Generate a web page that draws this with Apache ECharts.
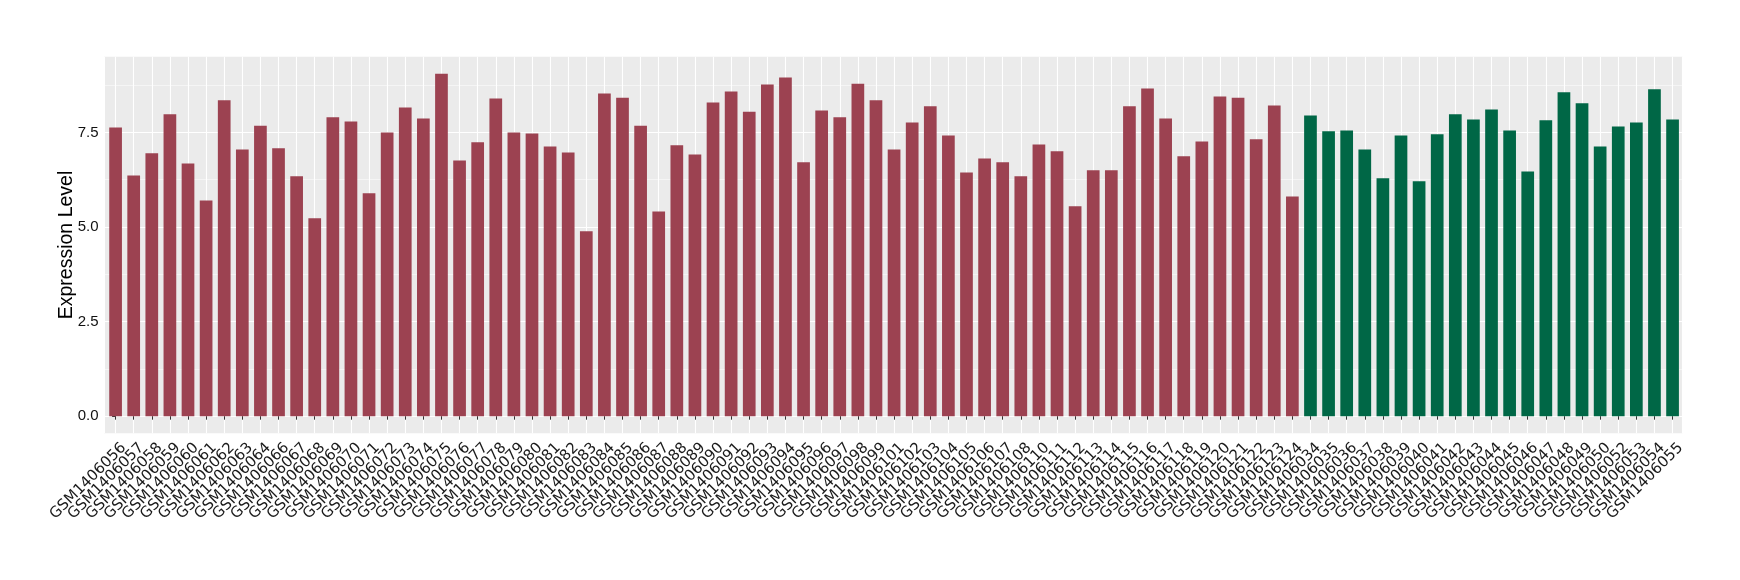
<!DOCTYPE html>
<html>
<head>
<meta charset="utf-8">
<script src="https://cdn.jsdelivr.net/npm/echarts@6/dist/echarts.min.js"></script>
<style>
  html, body { margin: 0; padding: 0; background: #fff; }
  #chart { width: 1740px; height: 580px; }
</style>
</head>
<body>
<div id="chart"></div>
<script>
  // samples of the first group (red)
  const redSamples = [
    'GSM1406056', 'GSM1406057', 'GSM1406058', 'GSM1406059', 'GSM1406060', 'GSM1406061',
    'GSM1406062', 'GSM1406063', 'GSM1406064', 'GSM1406066', 'GSM1406067', 'GSM1406068',
    'GSM1406069', 'GSM1406070', 'GSM1406071', 'GSM1406072', 'GSM1406073', 'GSM1406074',
    'GSM1406075', 'GSM1406076', 'GSM1406077', 'GSM1406078', 'GSM1406079', 'GSM1406080',
    'GSM1406081', 'GSM1406082', 'GSM1406083', 'GSM1406084', 'GSM1406085', 'GSM1406086',
    'GSM1406087', 'GSM1406088', 'GSM1406089', 'GSM1406090', 'GSM1406091', 'GSM1406092',
    'GSM1406093', 'GSM1406094', 'GSM1406095', 'GSM1406096', 'GSM1406097', 'GSM1406098',
    'GSM1406099', 'GSM1406101', 'GSM1406102', 'GSM1406103', 'GSM1406104', 'GSM1406105',
    'GSM1406106', 'GSM1406107', 'GSM1406108', 'GSM1406110', 'GSM1406111', 'GSM1406112',
    'GSM1406113', 'GSM1406114', 'GSM1406115', 'GSM1406116', 'GSM1406117', 'GSM1406118',
    'GSM1406119', 'GSM1406120', 'GSM1406121', 'GSM1406122', 'GSM1406123', 'GSM1406124'
  ];
  const redValues = [
    7.63, 6.36, 6.95, 7.98, 6.68, 5.70,
    8.35, 7.05, 7.68, 7.08, 6.34, 5.23,
    7.90, 7.79, 5.89, 7.50, 8.16, 7.87,
    9.05, 6.76, 7.24, 8.40, 7.50, 7.47,
    7.13, 6.97, 4.89, 8.53, 8.42, 7.68,
    5.41, 7.16, 6.92, 8.29, 8.58, 8.05,
    8.77, 8.95, 6.71, 8.08, 7.90, 8.79,
    8.35, 7.05, 7.76, 8.19, 7.42, 6.44,
    6.81, 6.71, 6.34, 7.18, 7.00, 5.55,
    6.50, 6.50, 8.19, 8.66, 7.87, 6.87,
    7.26, 8.45, 8.42, 7.32, 8.21, 5.81
  ];
  // samples of the second group (green)
  const greenSamples = [
    'GSM1406034', 'GSM1406035', 'GSM1406036', 'GSM1406037', 'GSM1406038', 'GSM1406039',
    'GSM1406040', 'GSM1406041', 'GSM1406042', 'GSM1406043', 'GSM1406044', 'GSM1406045',
    'GSM1406046', 'GSM1406047', 'GSM1406048', 'GSM1406049', 'GSM1406050', 'GSM1406052',
    'GSM1406053', 'GSM1406054', 'GSM1406055'
  ];
  const greenValues = [
    7.95, 7.53, 7.55, 7.05, 6.29, 7.42,
    6.21, 7.45, 7.98, 7.84, 8.11, 7.55,
    6.47, 7.82, 8.56, 8.27, 7.13, 7.66,
    7.76, 8.64, 7.84
  ];
  const yTicks = [0, 2.5, 5, 7.5];
  const yMinorTicks = [1.25, 3.75, 6.25, 8.75];

  const samples = redSamples.concat(greenSamples);
  const xMin = -0.64;
  const xMax = samples.length - 1 + 0.56;
  // the two ends are dummies: echarts drops the first/last label, so give it empty ones
  const xTicks = [xMin].concat(samples.map((s, i) => i), [xMax]);
  const barData = redValues.map((v, i) => ({ value: [i, v], itemStyle: { color: '#9C4251' } }))
    .concat(greenValues.map((v, i) => ({ value: [redSamples.length + i, v], itemStyle: { color: '#006746' } })));

  const chart = echarts.init(document.getElementById('chart'));
  chart.setOption({
    animation: false,
    backgroundColor: '#fff',
    grid: {
      left: 104, right: 57.3, top: 56.7, bottom: 146.7,
      show: true, backgroundColor: '#EBEBEB', borderWidth: 0
    },
    xAxis: {
      type: 'value',
      min: xMin,
      max: xMax,
      axisLine: { show: false },
      axisTick: { show: true, customValues: xTicks, length: 3.5, lineStyle: { color: '#333', width: 1 } },
      axisLabel: {
        customValues: xTicks,
        formatter: v => samples[v] || '',
        showMinLabel: false,
        showMaxLabel: false,
        hideOverlap: false,
        rotate: 45,
        align: 'right',
        verticalAlign: 'top',
        margin: 4,
        padding: [4, 0, 0, 0],
        fontSize: 15,
        fontFamily: 'DejaVu Sans',
        color: '#1a1a1a'
      },
      splitLine: { show: true, lineStyle: { color: '#fff', width: 1.1 } }
    },
    yAxis: [
      {
        type: 'value',
        position: 'left',
        min: -0.4525,
        max: 9.5025,
        name: 'Expression Level',
        nameLocation: 'middle',
        nameGap: 27,
        nameMoveOverlap: false,
        nameTextStyle: { fontSize: 19.5, fontFamily: 'Liberation Sans', color: '#000' },
        axisLine: { show: false },
        axisTick: { show: true, customValues: yTicks, length: 3.5, lineStyle: { color: '#333', width: 1 } },
        axisLabel: {
          customValues: yTicks,
          formatter: v => v.toFixed(1),
          margin: 5.5,
          fontSize: 15,
          fontFamily: 'Liberation Sans',
          color: '#111'
        },
        splitLine: { show: true, lineStyle: { color: '#fff', width: 1.1 } }
      },
      {
        type: 'value',
        position: 'left',
        min: -0.4525,
        max: 9.5025,
        axisLine: { show: false },
        axisTick: { show: false, customValues: yMinorTicks },
        axisLabel: { show: false, customValues: yMinorTicks },
        splitLine: { show: true, lineStyle: { color: '#fff', width: 0.5 } }
      }
    ],
    series: [{
      type: 'bar',
      yAxisIndex: 0,
      barWidth: 12.7,
      data: barData
    }]
  });
</script>
</body>
</html>
